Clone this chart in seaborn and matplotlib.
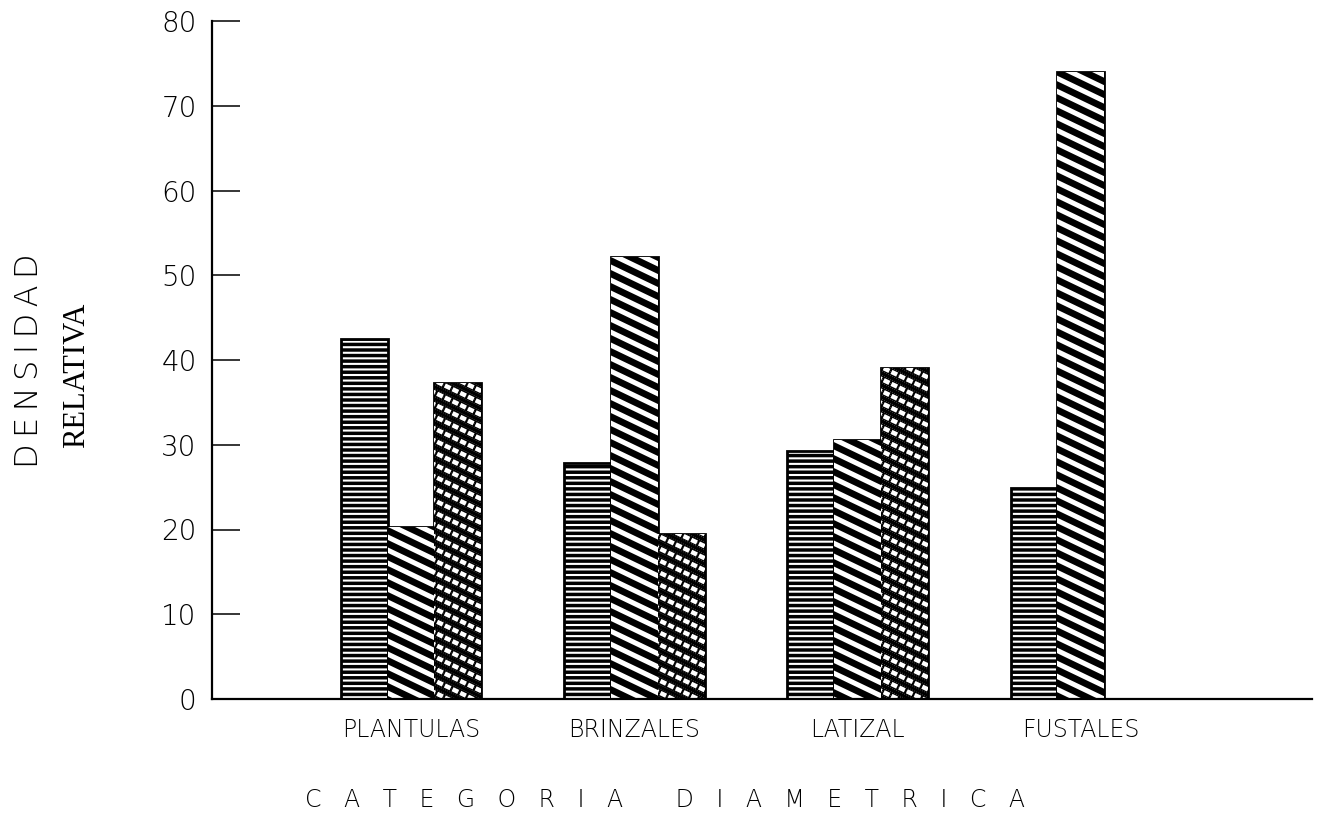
import numpy as np
import pandas as pd
import matplotlib
matplotlib.use("Agg")
import matplotlib.pyplot as plt
import seaborn as sns
from matplotlib.collections import LineCollection
from matplotlib.transforms import IdentityTransform

# ---- data ----
categorias = ["PLANTULAS", "BRINZALES", "LATIZAL", "FUSTALES"]
serie_a = [42.5, 27.8, 29.3, 24.9]
serie_b = [20.3, 52.2, 30.6, 74.0]
serie_c = [37.3, 19.5, 39.0, np.nan]
series = ["A", "B", "C"]
y_ticks = [0, 10, 20, 30, 40, 50, 60, 70, 80]
y_labels = ["0", "10", "20", "30", "40", "50", "60", "70", "80"]

sns.set_theme(style="white")
plt.rcParams["hatch.linewidth"] = 1.5
plt.rcParams["font.family"] = ["DejaVu Sans"]

W, H = 1326, 832
fig = plt.figure(figsize=(W / 100, H / 100), dpi=100)
ax = fig.add_axes([212 / W, 133 / H, 1100 / W, 678 / H])

df = pd.DataFrame({
    "categoria": categorias * 3,
    "serie": [s for s in series for _ in categorias],
    "valor": serie_a + serie_b + serie_c,
})

sns.barplot(data=df, x="categoria", y="valor", hue="serie", order=categorias,
            hue_order=series, palette=["black"] * 3, saturation=1, width=0.63,
            dodge=True, legend=False, errorbar=None, edgecolor="black",
            linewidth=2.0, ax=ax)

ax.set_xlim(-0.891, 4.035)
ax.set_ylim(0, 80)
ax.set_yticks(y_ticks)
ax.set_yticklabels(y_labels)
ax.set_xlabel("")
ax.set_ylabel("")
sns.despine(ax=ax)
for side in ["left", "bottom"]:
    ax.spines[side].set_color("black")
    ax.spines[side].set_linewidth(1.6)
ax.tick_params(axis="y", direction="in", length=20, width=1.1, pad=11,
               labelsize=20, left=True, colors="black")
ax.tick_params(axis="x", length=0, pad=14, labelsize=17, colors="black")
for lbl in ax.get_yticklabels() + ax.get_xticklabels():
    lbl.set_fontweight("light")


def set_hatch_white(p, hatch):
    p.set_hatch(hatch)
    if hasattr(p, "set_hatchcolor"):
        p.set_hatchcolor("white")
    else:
        p._hatch_color = (1, 1, 1, 1)


def stripes(patch, period, slope, lw_px, alpha, dashes=None):
    bb = patch.get_window_extent()
    x0, x1, y0, y1 = bb.x0 - 5, bb.x1 + 5, bb.y0, bb.y1
    cmin = y0 + slope * x0 - period
    cmax = y1 + slope * x1 + period
    ks = np.arange(np.floor(cmin / period), np.ceil(cmax / period) + 1)
    segs = [[(x0, k * period - slope * x0), (x1, k * period - slope * x1)] for k in ks]
    lc = LineCollection(segs, colors="white", linewidths=lw_px * 72 / 100,
                        alpha=alpha, transform=IdentityTransform(), zorder=2)
    if dashes is not None:
        lc.set_linestyle((0, dashes))
    ax.add_collection(lc, autolim=False)
    lc.set_clip_path(patch)


cont_a, cont_b, cont_c = ax.containers[:3]
for p in cont_a.patches:
    set_hatch_white(p, "---")
for p in cont_b.patches:
    stripes(p, period=13, slope=0.48, lw_px=5, alpha=1.0)
for p in cont_c.patches:
    stripes(p, period=12, slope=0.48, lw_px=4.5, alpha=1.0, dashes=(1.4, 0.5))
    stripes(p, period=4, slope=0.48, lw_px=0.8, alpha=0.6, dashes=(0.6, 2.2))

# axis titles
fig.text(29 / W, 1 - 361 / H, "D\u2009E\u2009N\u2009S\u2009I\u2009D\u2009A\u2009D",
         rotation=90, ha="center", va="center", fontsize=23, color="black",
         fontweight="light")
fig.text(77 / W, 1 - 375 / H, "RELATIVA", rotation=90, ha="center",
         va="center", fontsize=22, color="black", family=["Liberation Serif"])
fig.text(665 / W, 1 - 800 / H,
         "C   A   T   E   G   O   R   I   A       D   I   A   M   E   T   R   I   C   A",
         ha="center", va="center", fontsize=17, color="black", fontweight="light")

fig.savefig("out.png", dpi=100, facecolor="white")
